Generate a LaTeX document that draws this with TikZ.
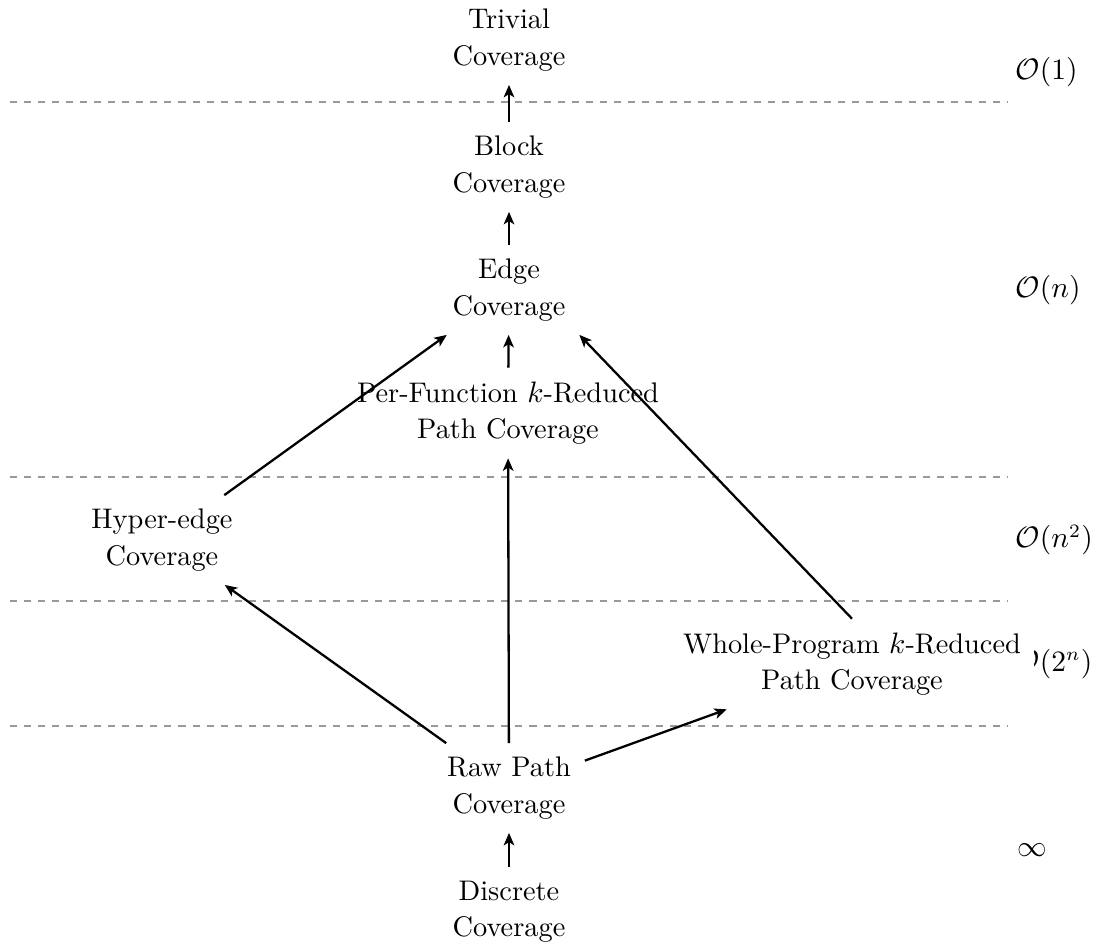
\documentclass[tikz,border=0pt]{standalone}
\usetikzlibrary{arrows.meta}
\begin{document}
\begin{tikzpicture}[x=0.37037pt, y=-0.37037pt,
  box/.style={align=center, inner sep=5pt, fill=white, font=\fontsize{10.5}{13.4}\selectfont},
  cx/.style={anchor=west, inner sep=0pt, font=\fontsize{10.5}{13.4}\selectfont},
  sep/.style={draw=black!40, line width=0.4pt, dash pattern=on 2.6pt off 2.6pt},
  arr/.style={draw, line width=0.85pt, -{Stealth[length=4.6pt, width=3.9pt, inset=1.2pt]}}]
\useasboundingbox (0,0) rectangle (1098,947);

% separators
\coordinate (s1a) at (10,102);  \coordinate (s1b) at (1007,102);
\coordinate (s2a) at (10,477);  \coordinate (s2b) at (1007,477);
\coordinate (s3a) at (10,601);  \coordinate (s3b) at (1007,601);
\coordinate (s4a) at (10,726);  \coordinate (s4b) at (1007,726);
\draw[sep] (s1a) -- (s1b);
\draw[sep] (s2a) -- (s2b);
\draw[sep] (s3a) -- (s3b);
\draw[sep] (s4a) -- (s4b);

% complexity labels
\node[cx] (c1) at (1015,72) {$\mathcal{O}(1)$};
\node[cx] (cn) at (1015,290) {$\mathcal{O}(n)$};
\node[cx] (cn2) at (1015,540) {$\mathcal{O}(n^2)$};
\node[cx] (c2n) at (1015,664) {$\mathcal{O}(2^n)$};
\node[cx] (cinf) at (1017,850) {$\infty$};

% nodes
\node[box] (trivial) at (509,40) {Trivial\\Coverage};
\node[box] (block) at (509,167) {Block\\Coverage};
\node[box] (edge) at (509,290) {Edge\\Coverage};
\node[box] (perf) at (508,413) {Per-Function $k$-Reduced\\Path Coverage};
\node[box] (hyper) at (162,540) {Hyper-edge\\Coverage};
\node[box] (whole) at (852,664) {Whole-Program $k$-Reduced\\Path Coverage};
\node[box] (raw) at (509,788) {Raw Path\\Coverage};
\node[box] (discrete) at (509,912) {Discrete\\Coverage};

% arrows
\draw[arr] (block) -- (trivial);
\draw[arr] (edge) -- (block);
\draw[arr] (perf) -- (edge);
\draw[arr] (hyper) -- (edge);
\draw[arr] (whole.north) -- (edge.south east);
\draw[arr] (raw) -- (perf);
\draw[arr] (raw) -- (hyper);
\draw[arr] (raw) -- (whole);
\draw[arr] (discrete) -- (raw);
\end{tikzpicture}
\end{document}
